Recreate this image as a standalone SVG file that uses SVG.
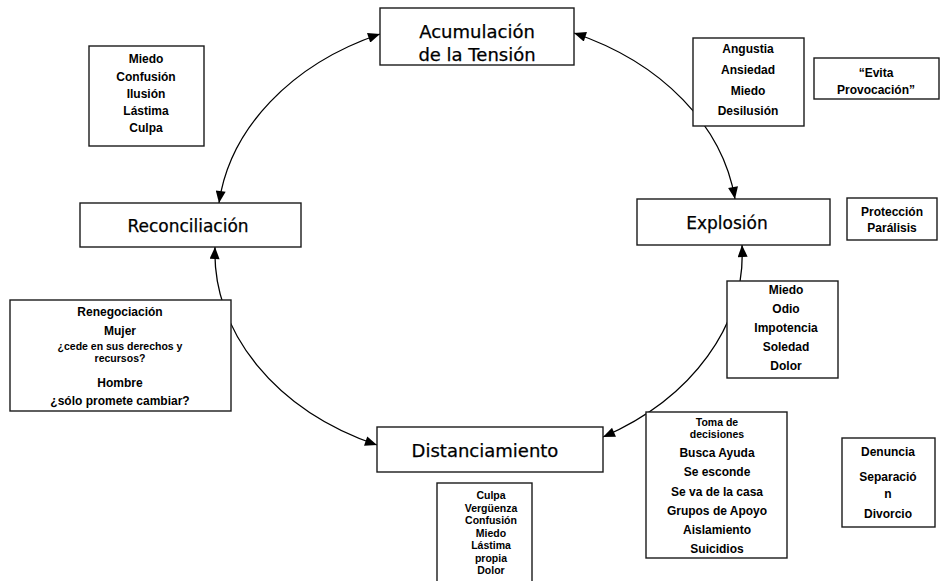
<svg xmlns="http://www.w3.org/2000/svg" width="943" height="581" viewBox="0 0 943 581">
<defs>
<style>
.box{fill:#fff;stroke:#1a1a1a;stroke-width:1.4}
.node{font-family:"DejaVu Sans","Liberation Sans",sans-serif;font-size:18px;fill:#000;text-anchor:middle;stroke:#000;stroke-width:0.25}
.sm{font-family:"Liberation Sans",Arial,sans-serif;font-weight:bold;font-size:12px;fill:#000;text-anchor:middle}
.tight{font-size:10.5px}
.arc{fill:none;stroke:#000;stroke-width:1.3;marker-start:url(#ah);marker-end:url(#ah)}
</style>
<marker id="ah" viewBox="0 0 12 10" refX="12" refY="5" markerWidth="13" markerHeight="10" markerUnits="userSpaceOnUse" orient="auto-start-reverse">
<path d="M0,0 L12,5 L0,10 z" fill="#000"/>
</marker>
</defs>
<rect width="943" height="581" fill="#fff"/>

<g id="connectors">
<path class="arc" d="M380,34 A272,210 0 0 0 219,203"/>
<path class="arc" d="M574,33 A272,210 0 0 1 735,199"/>
<path class="arc" d="M742,245 A272,210 0 0 1 603,437"/>
<path class="arc" d="M377,445 A272,210 0 0 1 215,247"/>
</g>

<g id="acumulacion">
<rect class="box" x="380" y="8" width="194" height="57"/>
<text class="node" x="477" y="38">Acumulación</text>
<text class="node" x="477" y="61">de la Tensión</text>
</g>

<g id="reconciliacion">
<rect class="box" x="80" y="203" width="221" height="44"/>
<text class="node" x="188" y="232" style="font-size:17px">Reconciliación</text>
</g>

<g id="explosion">
<rect class="box" x="637" y="199" width="193" height="46"/>
<text class="node" x="727" y="229" style="font-size:17px">Explosión</text>
</g>

<g id="distanciamiento">
<rect class="box" x="377" y="427" width="226" height="45"/>
<text class="node" x="485" y="457">Distanciamiento</text>
</g>

<g id="box-miedo-confusion">
<rect class="box" x="89" y="46" width="115" height="100"/>
<text class="sm" x="146" y="63">Miedo</text>
<text class="sm" x="146" y="81">Confusión</text>
<text class="sm" x="146" y="98">Ilusión</text>
<text class="sm" x="146" y="115">Lástima</text>
<text class="sm" x="146" y="132">Culpa</text>
</g>

<g id="box-angustia">
<rect class="box" x="693" y="38" width="111" height="88"/>
<text class="sm" x="748" y="53">Angustia</text>
<text class="sm" x="748" y="74">Ansiedad</text>
<text class="sm" x="748" y="95">Miedo</text>
<text class="sm" x="748" y="115">Desilusión</text>
</g>

<g id="box-evita">
<rect class="box" x="814" y="58" width="125" height="41"/>
<text class="sm" x="876" y="77">“Evita</text>
<text class="sm" x="876" y="94">Provocación”</text>
</g>

<g id="box-proteccion">
<rect class="box" x="847" y="198" width="90" height="42"/>
<text class="sm" x="892" y="216">Protección</text>
<text class="sm" x="892" y="232">Parálisis</text>
</g>

<g id="box-renegociacion">
<rect class="box" x="10" y="300" width="221" height="111"/>
<text class="sm" x="120" y="316">Renegociación</text>
<text class="sm" x="120" y="335">Mujer</text>
<text class="sm tight" x="120" y="350">¿cede en sus derechos y</text>
<text class="sm tight" x="120" y="362">recursos?</text>
<text class="sm" x="120" y="387">Hombre</text>
<text class="sm" x="120" y="405">¿sólo promete cambiar?</text>
</g>

<g id="box-miedo-odio">
<rect class="box" x="727" y="281" width="111" height="97"/>
<text class="sm" x="786" y="294">Miedo</text>
<text class="sm" x="786" y="313">Odio</text>
<text class="sm" x="786" y="332">Impotencia</text>
<text class="sm" x="786" y="351">Soledad</text>
<text class="sm" x="786" y="370">Dolor</text>
</g>

<g id="box-toma">
<rect class="box" x="646" y="412" width="141" height="146"/>
<text class="sm tight" x="717" y="426">Toma de</text>
<text class="sm tight" x="717" y="438">decisiones</text>
<text class="sm" x="717" y="457">Busca Ayuda</text>
<text class="sm" x="717" y="476">Se esconde</text>
<text class="sm" x="717" y="496">Se va de la casa</text>
<text class="sm" x="717" y="515">Grupos de Apoyo</text>
<text class="sm" x="717" y="534">Aislamiento</text>
<text class="sm" x="717" y="553">Suicidios</text>
</g>

<g id="box-denuncia">
<rect class="box" x="842" y="438" width="93" height="89"/>
<text class="sm" x="888" y="456">Denuncia</text>
<text class="sm" x="888" y="481">Separació</text>
<text class="sm" x="888" y="498">n</text>
<text class="sm" x="888" y="518">Divorcio</text>
</g>

<g id="box-culpa">
<rect class="box" x="437" y="483" width="95" height="110"/>
<text class="sm tight" x="491" y="499">Culpa</text>
<text class="sm tight" x="491" y="511.5">Vergüenza</text>
<text class="sm tight" x="491" y="524">Confusión</text>
<text class="sm tight" x="491" y="536.5">Miedo</text>
<text class="sm tight" x="491" y="549">Lástima</text>
<text class="sm tight" x="491" y="561.5">propia</text>
<text class="sm tight" x="491" y="574">Dolor</text>
</g>
</svg>
